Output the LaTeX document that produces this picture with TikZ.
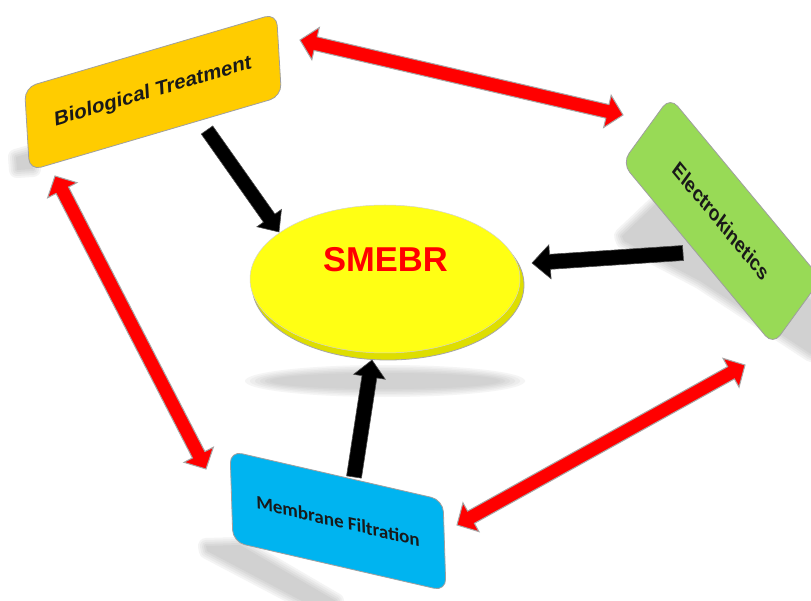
\documentclass[tikz,border=0pt]{standalone}
\usepackage{fontspec}
\setmainfont{Liberation Sans}
\newfontfamily\calfont{Carlito}
\usetikzlibrary{calc,shapes.geometric}

\definecolor{bioyellow}{RGB}{255,204,0}
\definecolor{ekgreen}{RGB}{152,218,86}
\definecolor{mfblue}{RGB}{0,180,240}
\definecolor{discyellow}{RGB}{255,255,20}
\definecolor{discrim}{RGB}{222,222,0}
\definecolor{blockred}{RGB}{255,0,0}

% single-headed block arrow: style, tail, tip, half shaft, half head, head length
\newcommand{\singleblock}[6]{%
  \filldraw[#1] ($(#2)!#4!90:(#3)$)
    -- ($($(#3)!#6!(#2)$)!#4!-90:(#2)$)
    -- ($($(#3)!#6!(#2)$)!#5!-90:(#2)$)
    -- (#3)
    -- ($($(#3)!#6!(#2)$)!#5!90:(#2)$)
    -- ($($(#3)!#6!(#2)$)!#4!90:(#2)$)
    -- ($(#2)!#4!-90:(#3)$) -- cycle;}

% double-headed block arrow: style, end A, end B, half shaft, half head, head length
\newcommand{\doubleblock}[6]{%
  \filldraw[#1] (#2)
    -- ($($(#2)!#6!(#3)$)!#5!90:(#3)$)
    -- ($($(#2)!#6!(#3)$)!#4!90:(#3)$)
    -- ($($(#3)!#6!(#2)$)!#4!-90:(#2)$)
    -- ($($(#3)!#6!(#2)$)!#5!-90:(#2)$)
    -- (#3)
    -- ($($(#3)!#6!(#2)$)!#5!90:(#2)$)
    -- ($($(#3)!#6!(#2)$)!#4!90:(#2)$)
    -- ($($(#2)!#6!(#3)$)!#4!-90:(#3)$)
    -- ($($(#2)!#6!(#3)$)!#5!-90:(#3)$)
    -- cycle;}

% soft grey shadow: lighter rings outside, solid core inside
\newcommand{\softshadow}[1]{%
  \draw[gray!9, line width=16pt, line join=round] #1;
  \draw[gray!16, line width=12pt, line join=round] #1;
  \draw[gray!23, line width=8pt, line join=round] #1;
  \draw[gray!30, line width=4pt, line join=round] #1;
  \fill[gray!36] #1;}

\begin{document}
\begin{tikzpicture}[x=1pt,y=-1pt,
  topicbox/.style={draw=gray!75, line width=0.8pt, rounded corners=12pt,
    inner sep=0pt, text=black!90, font=\fontsize{20pt}{24pt}\selectfont\bfseries},
  redarrow/.style={fill=blockred, draw=gray!70, line width=1pt, line join=miter},
  blackarrow/.style={fill=black, draw=black!70, line width=0.6pt, line join=miter}]

\useasboundingbox (0,0) rectangle (811,601);
\clip (0,0) rectangle (811,601);
\fill[white] (0,0) rectangle (811,601);

% shadows cast by the boxes
\softshadow{(16,157) -- (30,153) -- (33,169) -- (17,170) -- cycle}
\softshadow{(622,236) -- (660,200) -- (811,300) -- (811,354) -- (700,281) -- (624,241) -- cycle}
\softshadow{(206,546) -- (240,545) -- (336,601) -- (302,601) -- (207,551) -- cycle}

% shadow below the disc
\foreach \k/\c in {0/8,1/14,2/20,3/26,4/31,5/35}{
  \fill[gray!\c] (385,381) ellipse [x radius={140pt-5pt*\k}, y radius={16pt-1.6pt*\k}];}

% central disc
\node[ellipse, fill=discrim, draw=gray!70, line width=0.8pt, minimum width=272pt,
  minimum height=150pt, inner sep=0pt] (rim) at (388,285) {};
\node[ellipse, fill=discyellow, draw=gray!35, line width=0.5pt, minimum width=270pt,
  minimum height=148pt, inner sep=0pt] (smebr) at (385,279) {};
\node[text=blockred, font=\fontsize{34.5pt}{40pt}\selectfont\bfseries, inner sep=0pt]
  (smebrlabel) at (385.5,260) {SMEBR};

% ends of the connectors
\coordinate (bio-top-end) at (300,40);
\coordinate (ek-top-end) at (623,115);
\coordinate (bio-low-end) at (55,176);
\coordinate (mf-left-end) at (206,469);
\coordinate (mf-right-end) at (457,525);
\coordinate (ek-low-end) at (745,365);
\coordinate (bio-out) at (207,130);
\coordinate (smebr-in-bio) at (279,232);
\coordinate (ek-out) at (683,253);
\coordinate (smebr-in-ek) at (532,263);
\coordinate (mf-out) at (354,477);
\coordinate (smebr-in-mf) at (372,360);

% links between the three processes
\doubleblock{redarrow}{bio-top-end}{ek-top-end}{7pt}{16.5pt}{16pt}
\doubleblock{redarrow}{bio-low-end}{mf-left-end}{7pt}{16.5pt}{16pt}
\doubleblock{redarrow}{mf-right-end}{ek-low-end}{7pt}{16.5pt}{16pt}

% contributions to the SMEBR
\singleblock{blackarrow}{bio-out}{smebr-in-bio}{7pt}{15pt}{17pt}
\singleblock{blackarrow}{ek-out}{smebr-in-ek}{7.5pt}{17pt}{18pt}
\singleblock{blackarrow}{mf-out}{smebr-in-mf}{7.5pt}{16pt}{17pt}

% process boxes
\node[topicbox, fill=bioyellow, minimum width=252pt, minimum height=83pt,
  cm={1,0.294,-0.06,1,(0,0)}] (bio) at (153,92) {Biological Treatment};
\node[topicbox, fill=ekgreen, minimum width=236pt, minimum height=82pt,
  cm={0.640,-0.771,0.585,0.805,(0,0)}] (ek) at (721.5,221) {Electrokinetics};
\node[topicbox, fill=mfblue, minimum width=213pt, minimum height=91pt,
  cm={1,-0.23,-0.032,1,(0,0)}, font=\calfont\fontsize{19pt}{23pt}\selectfont\bfseries]
  (mf) at (338,521) {Membrane Filtration};
\end{tikzpicture}
\end{document}
